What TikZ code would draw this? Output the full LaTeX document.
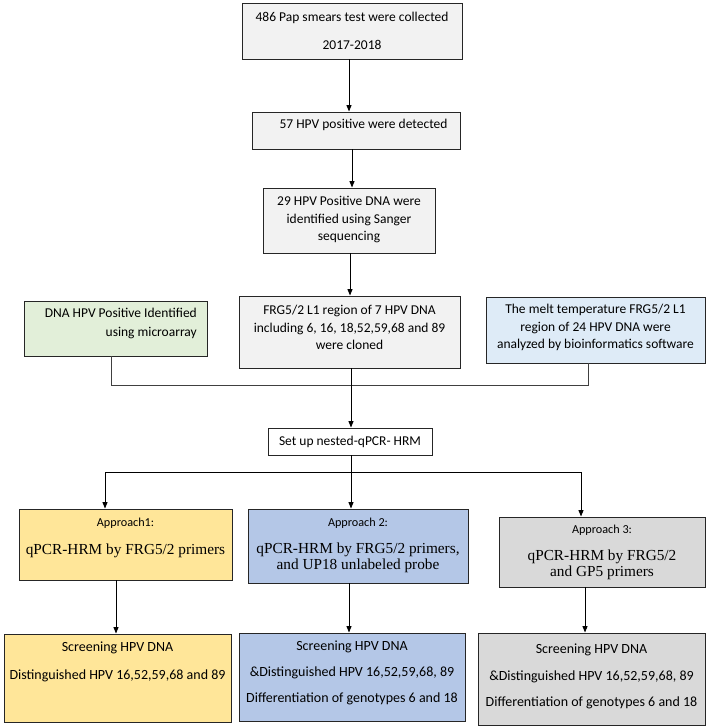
\documentclass[tikz,border=0pt]{standalone}
\usepackage{fontspec}
\setmainfont{Carlito}
\newfontfamily\timesf{Liberation Serif}
\usetikzlibrary{arrows.meta}
\definecolor{lgray}{HTML}{F2F2F2}
\definecolor{lgreen}{HTML}{E2EFD9}
\definecolor{lblue}{HTML}{DEEBF7}
\definecolor{yel}{HTML}{FFE699}
\definecolor{mblue}{HTML}{B4C7E7}
\definecolor{mgray}{HTML}{D9D9D9}
\definecolor{edge}{HTML}{262626}
\begin{document}
\begin{tikzpicture}[x=1pt,y=-1pt,
  box/.style={draw=edge, line width=0.9pt, inner sep=0pt},
  txt/.style={inner sep=0pt, align=center, font=\fontsize{13.5}{17.5}\selectfont},
  hd/.style={inner sep=0pt, align=center, font=\fontsize{12.2}{15}\selectfont},
  scr/.style={inner sep=0pt, align=center},
  ser/.style={inner sep=0pt, align=center, font=\timesf\fontsize{15.3}{16}\selectfont},
  arr/.style={-{Triangle[length=6.5pt,width=5pt]}, line width=1pt, draw=black},
  conn/.style={line width=0.9pt, draw=black!75}]
\useasboundingbox (0,0) rectangle (708,728);
\fill[white] (0,0) rectangle (708,728);

% x positions
\coordinate (x349) at (349,0);
\coordinate (x352) at (352,0);
\coordinate (x350) at (350,0);
\coordinate (x351) at (351,0);
\coordinate (x111) at (111,0);
\coordinate (x588) at (588,0);
\coordinate (x105) at (105,0);
\coordinate (x581) at (581,0);
\coordinate (x116) at (116,0);
\coordinate (x585) at (585,0);

% boxes
\node[box, fill=lgray, minimum width=220pt, minimum height=56pt] (b1) at (352,31) {};
\node[txt] (t1) at (352,31) {486 Pap smears test were collected\\[10.5pt]2017-2018};

\node[box, fill=lgray, minimum width=208pt, minimum height=37pt] (b2) at (356,130.5) {};
\node[txt] (t2) at (363.5,125) {57 HPV positive were detected};

\node[box, fill=lgray, minimum width=172pt, minimum height=65pt] (b3) at (349,220.5) {};
\node[txt] (t3) at (349,219.5) {29 HPV Positive DNA were\\identified using Sanger\\sequencing};

\node[box, fill=lgreen, minimum width=183pt, minimum height=55pt] (gr) at (115.5,328.5) {};
\node[txt, align=right, anchor=east, font=\fontsize{13.5}{19}\selectfont] (tgr) at (197,323.5) {DNA HPV Positive Identified\\using microarray};

\node[box, fill=lgray, minimum width=221pt, minimum height=72pt] (cl) at (349.5,332) {};
\node[txt] (tcl) at (349.5,327.5) {FRG5/2 L1 region of 7 HPV DNA\\including 6, 16, 18,52,59,68 and 89\\were cloned};

\node[box, fill=lblue, minimum width=219pt, minimum height=66pt] (bl) at (595.5,330) {};
\node[txt] (tbl) at (595.5,327.5) {The melt temperature FRG5/2 L1\\region of 24 HPV DNA were\\analyzed by bioinformatics software};

\node[box, fill=white, minimum width=164pt, minimum height=27pt] (su) at (350,441.5) {};
\node[txt] (tsu) at (350,441.5) {Set up nested-qPCR- HRM};

\node[box, fill=yel, minimum width=213pt, minimum height=71pt] (a1) at (125.5,544.5) {};
\node[hd] (ta1h) at (125.5,523) {Approach1:};
\node[ser] (ta1) at (125.5,551) {qPCR-HRM by FRG5/2 primers};

\node[box, fill=mblue, minimum width=220pt, minimum height=74pt] (a2) at (358,546) {};
\node[hd] (ta2h) at (358,523) {Approach 2:};
\node[ser] (ta2) at (358,558) {qPCR-HRM by FRG5/2 primers,\\and UP18 unlabeled probe};

\node[box, fill=mgray, minimum width=206pt, minimum height=70pt] (a3) at (602,552) {};
\node[hd] (ta3h) at (602,530) {Approach 3:};
\node[ser] (ta3) at (602,564.5) {qPCR-HRM by FRG5/2\\and GP5 primers};

\node[box, fill=yel, minimum width=227pt, minimum height=88pt] (s1) at (117.5,678) {};
\node[scr, font=\fontsize{14}{28}\selectfont] (ts1) at (117.5,662) {Screening HPV DNA\\Distinguished HPV 16,52,59,68 and 89};

\node[box, fill=mblue, minimum width=226pt, minimum height=88pt] (s2) at (352,677) {};
\node[scr, font=\fontsize{14}{26}\selectfont] (ts2) at (352,673) {Screening HPV DNA\\\&Distinguished HPV 16,52,59,68, 89\\Differentiation of genotypes 6 and 18};

\node[box, fill=mgray, minimum width=227pt, minimum height=92pt] (s3) at (591.5,679) {};
\node[scr, font=\fontsize{14}{26.5}\selectfont] (ts3) at (591.5,676.5) {Screening HPV DNA\\\&Distinguished HPV 16,52,59,68, 89\\Differentiation of genotypes 6 and 18};

% connectors
\draw[arr] (b1.south -| x349) -- (b2.north -| x349);
\draw[arr] (b2.south -| x352) -- (b3.north -| x352);
\draw[arr] (b3.south -| x350) -- (cl.north -| x350);

\coordinate (mg) at (351,385);
\draw[conn] (gr.south -| x111) |- (mg);
\draw[conn] (bl.south -| x588) |- (mg);
\draw[arr] (cl.south -| x351) -- (su.north -| x351);

\coordinate (br) at (351,472);
\draw[line width=0.9pt] (su.south -| x351) -- (br);
\draw[arr] (br) -| (a1.north -| x105);
\draw[arr] (br) -- (a2.north -| x351);
\draw[arr] (br) -| (a3.north -| x581);

\draw[arr] (a1.south -| x116) -- (s1.north -| x116);
\draw[arr] (a2.south -| x349) -- (s2.north -| x349);
\draw[arr] (a3.south -| x585) -- (s3.north -| x585);
\end{tikzpicture}
\end{document}
